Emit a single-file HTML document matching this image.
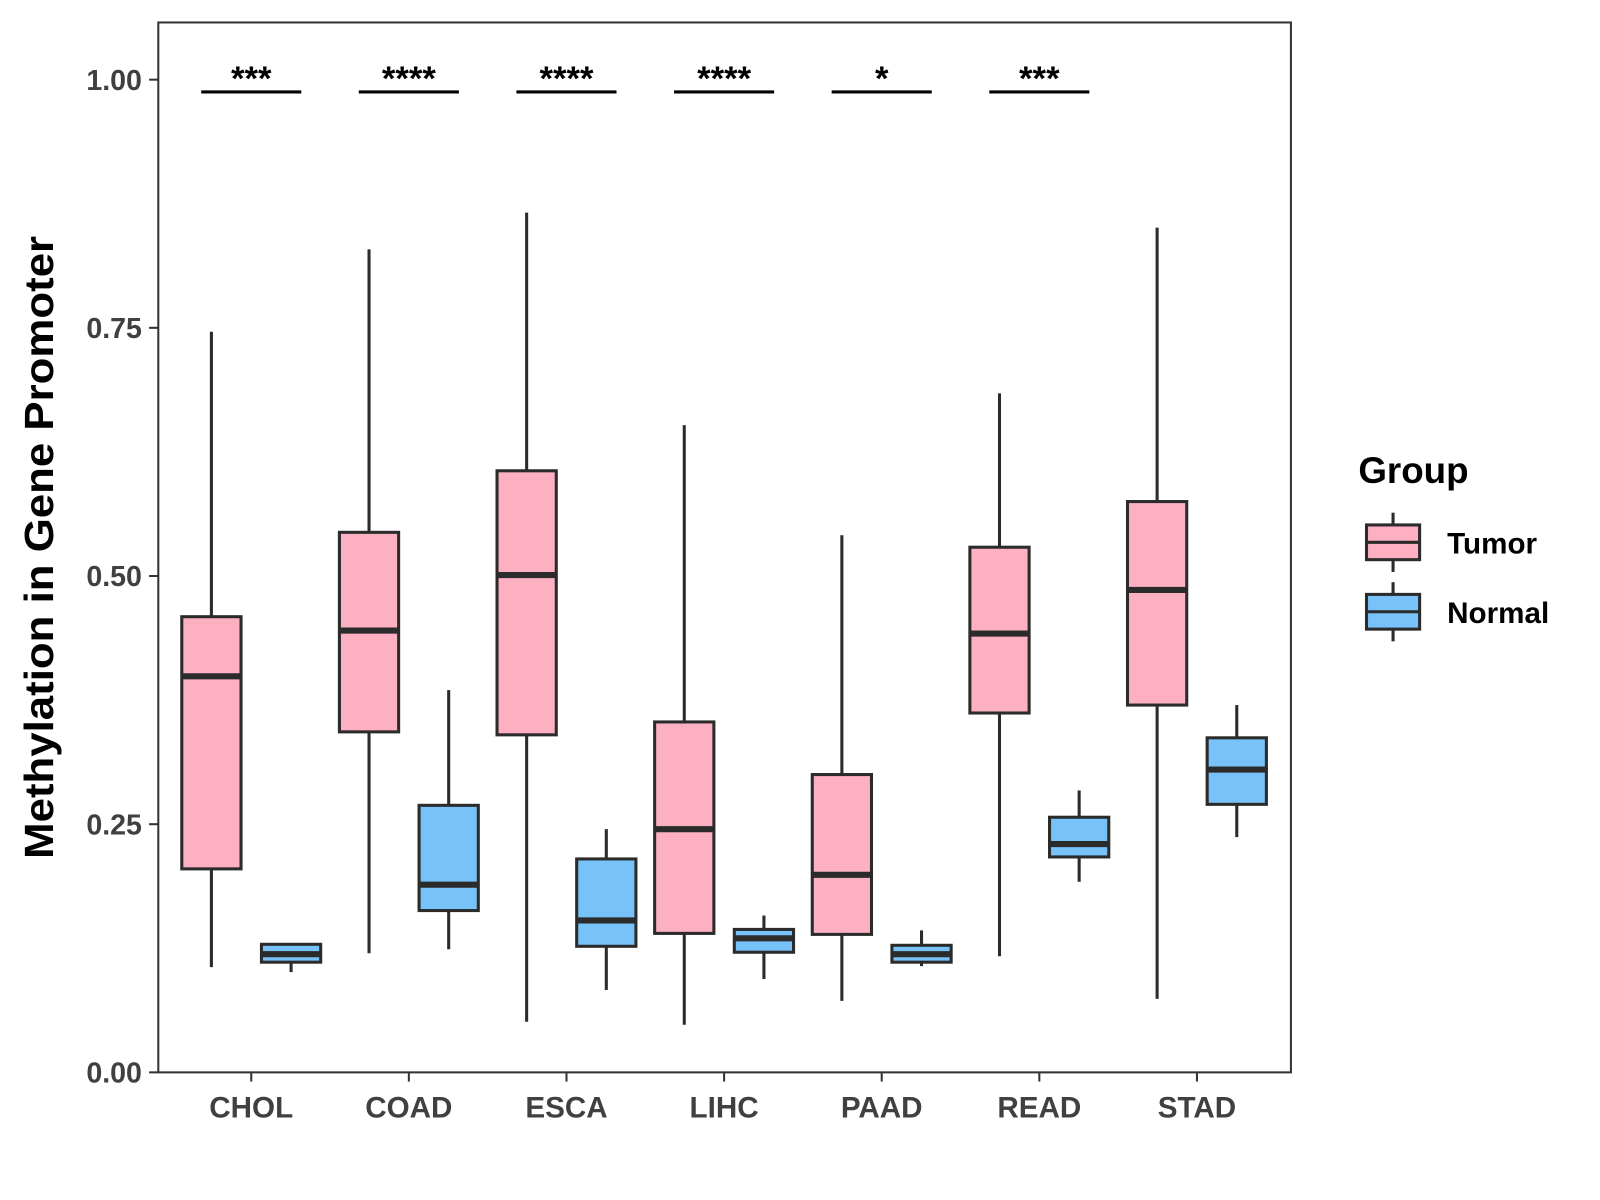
<!DOCTYPE html>
<html><head><meta charset="utf-8"><style>
html,body{margin:0;padding:0;background:#fff;}
svg{display:block;font-family:"Liberation Sans",Arial,sans-serif;}
</style></head><body>
<svg id="chart" width="1600" height="1200" viewBox="0 0 1600 1200">
<g transform="scale(1.0213)">
<rect x="155" y="22" width="1109" height="1028" fill="#fff" stroke="#333" stroke-width="2"/>
<g id="marks"></g>
<g id="axes"></g>
<text x="52" y="536" transform="rotate(-90 52 536)" text-anchor="middle" font-size="40" font-weight="bold" fill="#000" textLength="610" lengthAdjust="spacingAndGlyphs">Methylation in Gene Promoter</text>
<g>
<text x="1330" y="473" font-size="36" font-weight="bold" fill="#000">Group</text>
<g>
<line x1="1364" y1="502" x2="1364" y2="560" stroke="#2b2b2b" stroke-width="3"/>
<rect x="1338" y="514" width="52" height="34" fill="#FDB0C2" stroke="#2b2b2b" stroke-width="3"/>
<line x1="1338" y1="531" x2="1390" y2="531" stroke="#2b2b2b" stroke-width="3"/>
<text x="1417" y="542" font-size="29" font-weight="bold" fill="#000">Tumor</text>
</g>
<g>
<line x1="1364" y1="570" x2="1364" y2="628" stroke="#2b2b2b" stroke-width="3"/>
<rect x="1338" y="582" width="52" height="34" fill="#77C2F8" stroke="#2b2b2b" stroke-width="3"/>
<line x1="1338" y1="599" x2="1390" y2="599" stroke="#2b2b2b" stroke-width="3"/>
<text x="1417" y="610" font-size="29" font-weight="bold" fill="#000">Normal</text>
</g>
</g>
</g>
</svg>
<script>
const categories = ["CHOL","COAD","ESCA","LIHC","PAAD","READ","STAD"];
// [low, q1, median, q3, high]
const tumorStats = [
 [0.106,0.205,0.399,0.459,0.746],
 [0.120,0.343,0.445,0.544,0.829],
 [0.051,0.340,0.501,0.606,0.866],
 [0.048,0.140,0.245,0.353,0.652],
 [0.072,0.139,0.199,0.300,0.541],
 [0.117,0.362,0.442,0.529,0.684],
 [0.074,0.370,0.486,0.575,0.851]
];
const normalStats = [
 [0.101,0.111,0.119,0.129,0.129],
 [0.124,0.163,0.189,0.269,0.385],
 [0.083,0.127,0.153,0.215,0.245],
 [0.094,0.121,0.135,0.144,0.158],
 [0.107,0.111,0.119,0.128,0.143],
 [0.192,0.217,0.230,0.257,0.284],
 [0.237,0.270,0.305,0.337,0.370]
];
const sigLabels = ["***","****","****","****","*","***",""];
const yTicks = [0,0.25,0.5,0.75,1];
const yTickLabels = ["0.00","0.25","0.50","0.75","1.00"];

const NS="http://www.w3.org/2000/svg";
const yScale = v => 1050 - v*972;
const xScale = i => 246 + i*154.33;
const marks = document.getElementById('marks');
const axes = document.getElementById('axes');
function mk(tag, attrs, parent){
  const e=document.createElementNS(NS,tag);
  for(const k in attrs) e.setAttribute(k,attrs[k]);
  parent.appendChild(e); return e;
}
function drawBox(s, cx, fill, name){
  const g=mk('g',{},marks);
  
  
  const w=58;
  mk('line',{x1:cx,x2:cx,y1:yScale(s[4]),y2:yScale(s[3]),stroke:'#2b2b2b','stroke-width':3},g);
  mk('line',{x1:cx,x2:cx,y1:yScale(s[1]),y2:yScale(s[0]),stroke:'#2b2b2b','stroke-width':3},g);
  mk('rect',{x:cx-w/2,y:yScale(s[3]),width:w,height:yScale(s[1])-yScale(s[3]),fill:fill,stroke:'#2b2b2b','stroke-width':3},g);
  mk('line',{x1:cx-w/2,x2:cx+w/2,y1:yScale(s[2]),y2:yScale(s[2]),stroke:'#2b2b2b','stroke-width':6},g);
}
categories.forEach((c,i)=>{
  const cx=xScale(i);
  drawBox(tumorStats[i], cx-39, '#FDB0C2', 'box-tumor-'+c.toLowerCase());
  drawBox(normalStats[i], cx+39, '#77C2F8', 'box-normal-'+c.toLowerCase());
  if(sigLabels[i]){
    const l=mk('line',{x1:cx-49,x2:cx+49,y1:90,y2:90,stroke:'#000','stroke-width':3},marks);
    
    
    const t=mk('text',{x:cx,y:88,'text-anchor':'middle','font-size':34,'font-weight':'bold',fill:'#000'},marks);
    
    
    t.textContent=sigLabels[i];
  }
  mk('line',{x1:cx,x2:cx,y1:1050,y2:1059,stroke:'#333','stroke-width':2},axes);
  const xt=mk('text',{x:cx,y:1094,'text-anchor':'middle','font-size':29,'font-weight':'bold',fill:'#404040'},axes);
  
  
  xt.textContent=c;
});
yTicks.forEach((v,i)=>{
  const y=yScale(v);
  mk('line',{x1:146,x2:155,y1:y,y2:y,stroke:'#333','stroke-width':2},axes);
  const t=mk('text',{x:139,y:y+10,'text-anchor':'end','font-size':28,'font-weight':'bold',fill:'#404040'},axes);
  
  
  t.textContent=yTickLabels[i];
});
</script>
</body></html>
